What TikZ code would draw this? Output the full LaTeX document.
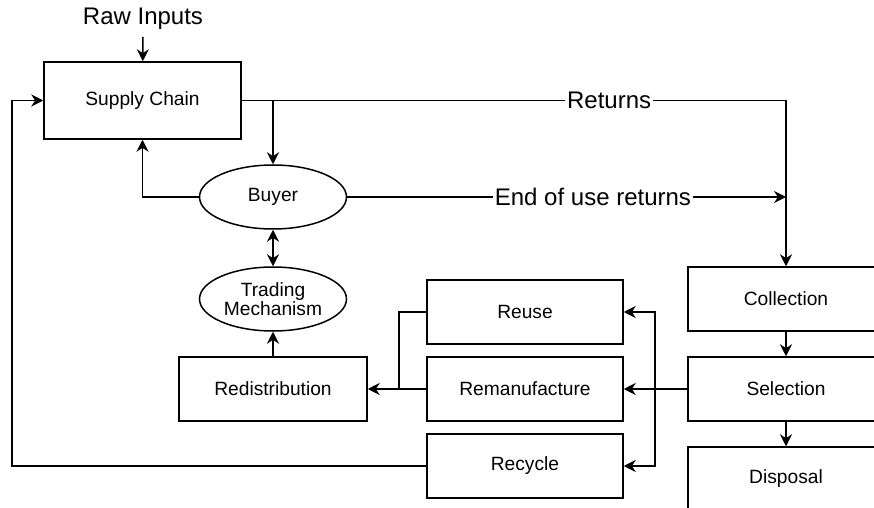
\documentclass[tikz,border=0pt]{standalone}
\usepackage{fontspec}
\setmainfont{Liberation Sans}
\usetikzlibrary{shapes.geometric,arrows.meta}

\begin{document}
\begin{tikzpicture}[x=0.5pt,y=-0.5pt,
  box/.style={rectangle,draw,line width=0.75pt,minimum width=98pt,minimum height=32pt,inner sep=0pt,font=\fontsize{9.6}{11}\selectfont},
  oval/.style={ellipse,draw,line width=0.75pt,minimum width=73.5pt,minimum height=32pt,inner sep=0pt,align=center,font=\fontsize{9.6}{10.5}\selectfont},
  lbl/.style={fill=white,inner sep=1pt,font=\fontsize{12}{14}\selectfont},
  arr/.style={line width=0.75pt,-{Stealth[length=6pt,width=6pt]}},
  arrb/.style={line width=0.75pt,{Stealth[length=6pt,width=6pt]}-{Stealth[length=6pt,width=6pt]}},
  ln/.style={line width=0.75pt}]
\useasboundingbox (0,0) rectangle (874,508);
\clip (0,0) rectangle (874,508);
\fill[white] (0,0) rectangle (874,508);
\node [box,minimum width=98.5pt,minimum height=38.5pt] (sc) at (142.5,100.5) {Supply Chain};
\node [font=\fontsize{12}{14}\selectfont] (raw) at (143,19) {Raw Inputs};
\node [oval] (buyer) at (273,197) {Buyer};
\node [oval] (trade) at (273,299) {Trading\\[-1pt]Mechanism};
\node [box,minimum width=94pt] (redis) at (273,389) {Redistribution};
\node [box] (reuse) at (525,312) {Reuse};
\node [box] (reman) at (525,389) {Remanufacture};
\node [box] (recyc) at (525,466) {Recycle};
\node [box] (coll) at (786,299) {Collection};
\node [box] (sel) at (786,389) {Selection};
\node [box] (disp) at (786,479) {Disposal};
\coordinate (rt) at (786,100.5);
\coordinate (lp) at (12,100.5);
\coordinate (jn) at (399,389);
\coordinate (vr) at (655,389);
\draw[arr] (raw) -- (sc);
\draw[arr] (sc.east) -- node[lbl,pos=0.675] {Returns} (rt) -- (coll);
\draw[arr] (buyer.north |- sc.east) -- (buyer.north);
\draw[arr] (buyer.west) -| (sc.south);
\draw[arr] (buyer.east) -- node[lbl,pos=0.56] {End of use returns} (rt |- buyer.east);
\draw[arrb] (buyer) -- (trade);
\draw[arr] (redis) -- (trade);
\draw[arr] (reman) -- (redis);
\draw[ln] (reuse.west) -| (jn);
\draw[arr] (recyc.west) -| (lp) -- (sc.west);
\draw[arr] (coll) -- (sel);
\draw[arr] (sel) -- (disp);
\draw[arr] (sel) -- (reman);
\draw[arr] (vr) |- (reuse.east);
\draw[arr] (vr) |- (recyc.east);
\end{tikzpicture}
\end{document}
